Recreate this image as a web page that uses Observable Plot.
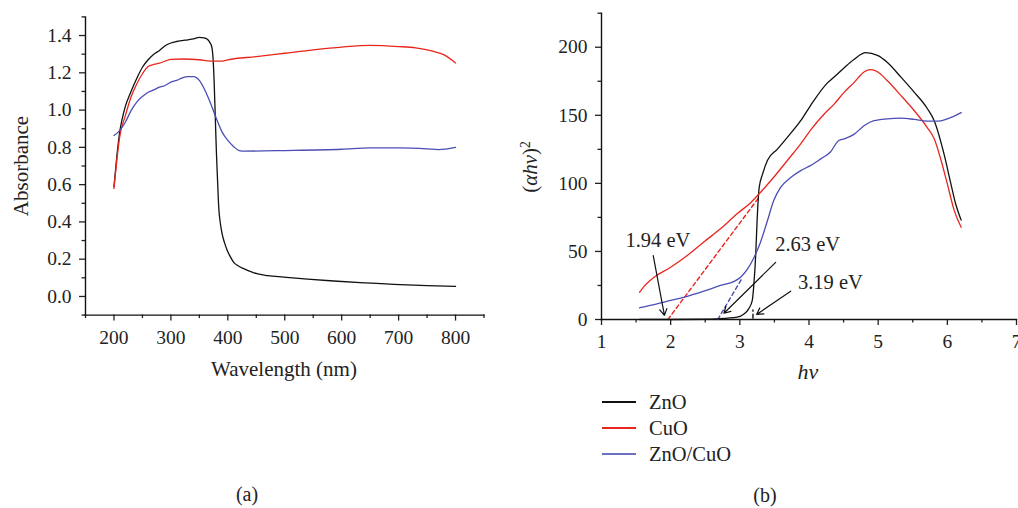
<!DOCTYPE html>
<html><head><meta charset="utf-8">
<script src="https://cdn.jsdelivr.net/npm/d3@7"></script>
<script src="https://cdn.jsdelivr.net/npm/@observablehq/plot@0.6"></script>
<style>
body{margin:0;background:#fff;}
#wrap{position:relative;width:1018px;height:508px;overflow:hidden;background:#fff;font-family:"Liberation Serif","Times New Roman",serif;color:#222;}
#wrap svg text{font-family:"Liberation Serif","Times New Roman",serif;}
.abs{position:absolute;white-space:nowrap;line-height:1;}
.sw{position:absolute;height:1.6px;}
</style></head><body><div id="wrap"></div>
<script>
// ---------- series names & colours ----------
const seriesNames = ["ZnO", "CuO", "ZnO/CuO"];
const seriesColors = ["#111111", "#e8261e", "#4b4db5"];
const legendColors = ["#111111", "#e8261e", "#6d6fc0"];

// ---------- panel (a): absorbance vs wavelength ----------
const wlZnO = [200,205,210,215,220,230,240,250,260,270,280,290,300,310,320,330,340,350,358,364,368,372,374,376,378,380,382,384,387,390,394,399,405,410,418,428,440,451,470,498,540,586,640,703,750,800];
const absZnO = [0.59,0.75,0.88,0.96,1.02,1.10,1.17,1.23,1.27,1.30,1.32,1.345,1.36,1.368,1.373,1.377,1.382,1.39,1.388,1.38,1.365,1.337,1.28,1.15,0.96,0.77,0.62,0.48,0.39,0.336,0.29,0.247,0.21,0.184,0.165,0.149,0.134,0.122,0.112,0.104,0.093,0.083,0.073,0.063,0.058,0.054];
const wlCuO = [200,205,210,220,230,240,250,260,270,280,290,300,320,350,370,390,400,450,500,550,600,650,700,730,760,780,800];
const absCuO = [0.58,0.73,0.855,0.97,1.07,1.14,1.195,1.234,1.245,1.252,1.263,1.272,1.274,1.27,1.263,1.263,1.27,1.287,1.305,1.323,1.338,1.347,1.341,1.334,1.316,1.296,1.253];
const wlMix = [200,210,220,230,240,250,260,270,280,290,300,310,320,330,340,350,360,370,380,390,400,410,420,430,500,600,650,700,750,770,800];
const absMix = [0.864,0.89,0.935,0.997,1.043,1.073,1.096,1.108,1.123,1.132,1.15,1.159,1.173,1.18,1.18,1.159,1.105,1.034,0.953,0.882,0.837,0.805,0.783,0.78,0.783,0.79,0.797,0.797,0.792,0.788,0.8];
const xTicksA = [200,300,400,500,600,700,800];
const xMinorA = [150,250,350,450,550,650,750,850];
const yTicksA = [0,0.2,0.4,0.6,0.8,1.0,1.2,1.4];
const yMinorA = [-0.1,0.1,0.3,0.5,0.7,0.9,1.1,1.3,1.5];

// ---------- panel (b): (αhν)² vs hν ----------
const hvZnO = [1.55,2.0,2.5,2.67,2.96,3.06,3.13,3.18,3.2,3.23,3.25,3.28,3.33,3.4,3.54,3.69,3.88,4.02,4.27,4.36,4.51,4.65,4.82,4.99,5.13,5.33,5.52,5.71,5.81,5.95,6.05,6.12,6.2];
const tZnO = [0,0,0.2,0.5,1.7,4,8,14,24,48,73,97,107,117,125,134,146,157,174,178,185,191,196,194,189,178,167,155,146,122,100,85,73];
const hvCuO = [1.55,1.61,1.76,2.0,2.24,2.48,2.72,2.96,3.16,3.3,3.49,3.69,3.88,4.02,4.22,4.36,4.51,4.65,4.8,4.89,4.99,5.13,5.33,5.52,5.71,5.81,5.91,6.0,6.1,6.2];
const tCuO = [20,24,31,38.4,47,57,66.6,77.6,86,93.5,104.5,117,129,139,151,158,167,174,182,183.6,182,175.5,164.5,153.5,141,132.7,116.8,99.6,80,67.8];
const hvMix = [1.55,1.76,2.0,2.24,2.48,2.72,2.92,3.01,3.11,3.2,3.3,3.4,3.49,3.59,3.74,3.88,4.02,4.17,4.31,4.43,4.51,4.65,4.8,4.94,5.13,5.33,5.52,5.71,5.86,6.0,6.2];
const tMix = [8.6,11,14,17,20.8,25,28,31,37,45,57,72.7,87.4,97,104.5,109.4,113,118,123,131.5,132.7,136,142.5,146,147.4,147.9,147,145.7,145.7,147.4,152];
const xTicksB = [1,2,3,4,5,6,7];
const xMinorB = [1.5,2.5,3.5,4.5,5.5,6.5];
const yTicksB = [0,50,100,150,200];
const yMinorB = [25,75,125,175,225];

// tangent extrapolations (band-gap fits)
const fitSeries = ["CuO", "CuO", "ZnO/CuO", "ZnO/CuO", "ZnO", "ZnO"];
const fitX = [1.96, 3.28, 2.68, 3.04, 3.19, 3.19];
const fitY = [0, 90, 0, 31, 1, 7];
// annotations
const gapLabels = ["1.94 eV", "2.63 eV", "3.19 eV"];
const gapLabelX = [1.815, 3.98, 4.31];
const gapLabelY = [58, 55, 27.4];
const arrowFromX = [1.748, 3.518, 3.735];
const arrowFromY = [47, 42, 20.8];
const arrowToX = [1.91, 2.77, 3.243];
const arrowToY = [3, 4.6, 3.7];

// ---------- build tables ----------
const FONT = '"Liberation Serif","Times New Roman",serif';
const rowsA = [
  ...wlZnO.map((x, i) => ({x, y: absZnO[i], s: "ZnO"})),
  ...wlCuO.map((x, i) => ({x, y: absCuO[i], s: "CuO"})),
  ...wlMix.map((x, i) => ({x, y: absMix[i], s: "ZnO/CuO"}))
];
const rowsB = [
  ...hvZnO.map((x, i) => ({x, y: tZnO[i], s: "ZnO"})),
  ...hvCuO.map((x, i) => ({x, y: tCuO[i], s: "CuO"})),
  ...hvMix.map((x, i) => ({x, y: tMix[i], s: "ZnO/CuO"}))
];
const fits = fitX.map((x, i) => ({x, y: fitY[i], s: fitSeries[i]}));
const labels = gapLabels.map((t, i) => ({t, x: gapLabelX[i], y: gapLabelY[i]}));
const arrows = arrowFromX.map((x1, i) => ({x1, y1: arrowFromY[i], x2: arrowToX[i], y2: arrowToY[i]}));

const colorOpt = {domain: seriesNames, range: seriesColors};
const styleOpt = {fontFamily: FONT, fontSize: "19.5px", color: "#222", background: "transparent", overflow: "visible"};

function axes(xT, xM, yT, yM, fmtY) {
  const t = {fontFamily: FONT, fontSize: 19.5};
  return [
    Plot.axisX({ticks: xT, tickSize: 6, tickPadding: 9, label: null, tickFormat: d => String(d), strokeWidth: 1.3, ...t}),
    Plot.axisX({ticks: xM, tickSize: 3.5, label: null, tickFormat: () => "", strokeWidth: 1.3}),
    Plot.axisY({ticks: yT, tickSize: 6, tickPadding: 8, label: null, tickFormat: fmtY, strokeWidth: 1.3, ...t}),
    Plot.axisY({ticks: yM, tickSize: 3.5, label: null, tickFormat: () => "", strokeWidth: 1.3}),
    Plot.frame({anchor: "bottom", strokeWidth: 1.4, stroke: "#111"}),
    Plot.frame({anchor: "left", strokeWidth: 1.4, stroke: "#111"})
  ];
}

const pa = Plot.plot({
  width: 500, height: 400,
  marginLeft: 85, marginRight: 16.5, marginTop: 16.4, marginBottom: 85.4,
  style: styleOpt,
  x: {domain: [150, 850]},
  y: {domain: [-0.1, 1.5]},
  color: colorOpt,
  marks: [
    ...axes(xTicksA, xMinorA, yTicksA, yMinorA, d3.format(".1f")),
    Plot.line(rowsA, {x: "x", y: "y", z: "s", stroke: "s", strokeWidth: 1.3, curve: "monotone-x"})
  ]
});

const pb = Plot.plot({
  width: 508, height: 400,
  marginLeft: 91, marginRight: 2, marginTop: 12.7, marginBottom: 81,
  style: styleOpt,
  x: {domain: [1, 7]},
  y: {domain: [0, 225]},
  color: colorOpt,
  marks: [
    ...axes(xTicksB, xMinorB, yTicksB, yMinorB, d => String(d)),
    Plot.line(fits, {x: "x", y: "y", z: "s", stroke: "s", strokeWidth: 1.4, strokeDasharray: "4,3"}),
    Plot.line(rowsB, {x: "x", y: "y", z: "s", stroke: "s", strokeWidth: 1.3, curve: "monotone-x"}),
    Plot.arrow(arrows, {x1: "x1", y1: "y1", x2: "x2", y2: "y2", stroke: "#111", strokeWidth: 1.2, headLength: 9}),
    Plot.text(labels, {x: "x", y: "y", text: "t", fontSize: 20.5, fontFamily: FONT, fill: "#222", textAnchor: "middle"})
  ]
});

const wrap = document.getElementById("wrap");
for (const [svg, left] of [[pa, 0], [pb, 510]]) {
  svg.style.position = "absolute";
  svg.style.left = left + "px";
  svg.style.top = "0px";
  wrap.appendChild(svg);
}

// ---------- text: axis titles, legend, captions ----------
function addText(html, cx, cy, size, rotate) {
  const d = document.createElement("div");
  d.className = "abs";
  d.innerHTML = html;
  d.style.left = cx + "px";
  d.style.top = cy + "px";
  d.style.fontSize = size + "px";
  d.style.transform = "translate(-50%,-50%)" + (rotate ? " rotate(-90deg)" : "");
  wrap.appendChild(d);
}
addText("Absorbance", 21, 166, 21, true);
addText("Wavelength (nm)", 284, 369, 21, false);
addText('(<i>αhv</i>)<sup style="font-size:0.65em;vertical-align:0.55em">2</sup>', 530, 167, 21, true);
addText("<i>hv</i>", 808, 372, 22, false);
addText("(a)", 247, 494, 20, false);
addText("(b)", 765, 495, 20, false);

const legendY = [402, 428, 454];
seriesNames.forEach((name, i) => {
  const sw = document.createElement("div");
  sw.className = "sw";
  sw.style.left = "602px";
  sw.style.width = "34px";
  sw.style.top = (legendY[i] - 0.8) + "px";
  sw.style.backgroundColor = legendColors[i];
  wrap.appendChild(sw);
  const t = document.createElement("div");
  t.className = "abs";
  t.textContent = name;
  t.style.left = "649px";
  t.style.top = legendY[i] + "px";
  t.style.fontSize = "20.5px";
  t.style.transform = "translateY(-50%)";
  wrap.appendChild(t);
});
</script>
</body></html>
